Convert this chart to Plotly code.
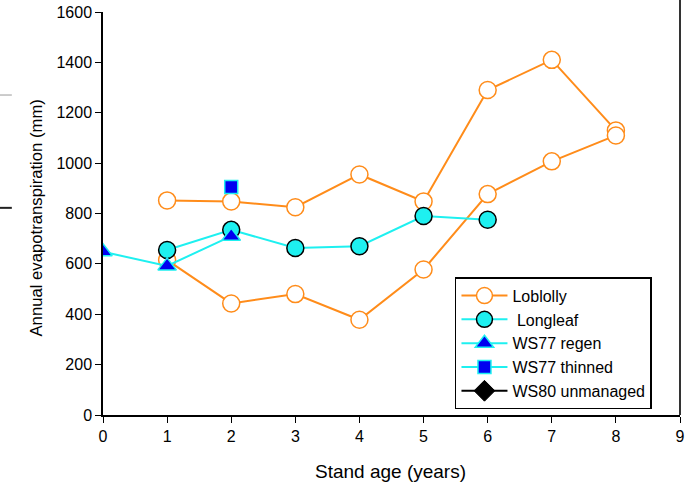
import plotly.graph_objects as go

# Data
lob_x_upper = [1, 2, 3, 4, 5, 6, 7, 8]
lob_y_upper = [852, 848, 825, 955, 848, 1290, 1410, 1130]
lob_x_lower = [1, 2, 3, 4, 5, 6, 7, 8]
lob_y_lower = [615, 443, 480, 378, 578, 877, 1007, 1110]
long_x = [1, 2, 3, 4, 5, 6]
long_y = [655, 735, 663, 670, 790, 775]
regen_x = [0, 1, 2]
regen_y = [648, 592, 710]
thin_x = [2]
thin_y = [905]
x_ticks = [0, 1, 2, 3, 4, 5, 6, 7, 8, 9]
y_ticks = [0, 200, 400, 600, 800, 1000, 1200, 1400, 1600]

ORANGE = "#FF8C1A"
CYAN = "#1EF0F0"
BLUE = "#0000F0"
FONT = "Arial, Liberation Sans, sans-serif"

fig = go.Figure()

lob_marker = dict(symbol="circle", size=17, color="white", line=dict(color=ORANGE, width=1.5))
fig.add_trace(go.Scatter(x=lob_x_upper, y=lob_y_upper, mode="lines+markers", name="Loblolly",
                         line=dict(color=ORANGE, width=2), marker=lob_marker, legendgroup="lob"))
fig.add_trace(go.Scatter(x=lob_x_lower, y=lob_y_lower, mode="lines+markers", name="Loblolly",
                         line=dict(color=ORANGE, width=2), marker=lob_marker, legendgroup="lob",
                         showlegend=False))
fig.add_trace(go.Scatter(x=long_x, y=long_y, mode="lines+markers", name=" Longleaf",
                         line=dict(color=CYAN, width=2),
                         marker=dict(symbol="circle", size=17, color=CYAN, line=dict(color="black", width=1.5))))
fig.add_trace(go.Scatter(x=regen_x, y=regen_y, mode="lines+markers", name="WS77 regen",
                         line=dict(color=CYAN, width=2),
                         marker=dict(symbol="triangle-up", size=16, color=BLUE, line=dict(color=CYAN, width=1.5))))
fig.add_trace(go.Scatter(x=thin_x, y=thin_y, mode="lines+markers", name="WS77 thinned",
                         line=dict(color=CYAN, width=2),
                         marker=dict(symbol="square", size=13, color=BLUE, line=dict(color=CYAN, width=1.5))))
fig.add_trace(go.Scatter(x=[None], y=[None], mode="lines+markers", name="WS80 unmanaged",
                         line=dict(color="black", width=2),
                         marker=dict(symbol="diamond", size=16, color="black", line=dict(color="black", width=1))))

fig.update_layout(
    width=695, height=484,
    margin=dict(l=103, r=15, t=12, b=69, autoexpand=False),
    paper_bgcolor="white", plot_bgcolor="white",
    font=dict(family=FONT, size=16, color="black"),
    showlegend=True,
    legend=dict(x=0.61, y=0.342, xanchor="left", yanchor="top",
                bordercolor="black", borderwidth=1.5, bgcolor="white",
                font=dict(size=16), tracegroupgap=0, itemsizing="trace", itemwidth=46),
    xaxis=dict(range=[0, 9], tickvals=x_ticks, showgrid=False, zeroline=False,
               showline=True, linecolor="black", linewidth=1.5, ticks="outside",
               ticklen=6, tickcolor="black", automargin=False, tickfont=dict(size=16)),
    yaxis=dict(range=[0, 1600], tickvals=y_ticks, showgrid=False, zeroline=False,
               showline=True, linecolor="black", linewidth=1.5, ticks="outside",
               ticklen=6, tickcolor="black", automargin=False, tickfont=dict(size=16)),
    annotations=[
        dict(text="Stand age (years)", xref="paper", yref="paper", x=0.499, y=-0.139,
             xanchor="center", yanchor="middle", showarrow=False, font=dict(size=19)),
        dict(text="Annual evapotranspiration (mm)", xref="paper", yref="paper", x=-0.1144, y=0.49,
             xanchor="center", yanchor="middle", showarrow=False, textangle=-90, font=dict(size=16.7)),
    ],
    shapes=[
        dict(type="line", xref="paper", yref="paper", x0=1, x1=1, y0=0, y1=1.05,
             line=dict(color="#333333", width=2)),
        dict(type="line", xref="paper", yref="paper", x0=-0.18, x1=-0.158, y0=0.794, y1=0.794,
             line=dict(color="#999999", width=1)),
        dict(type="line", xref="paper", yref="paper", x0=-0.18, x1=-0.158, y0=0.514, y1=0.514,
             line=dict(color="#222222", width=2)),
    ],
)

fig.write_html("out.html")
